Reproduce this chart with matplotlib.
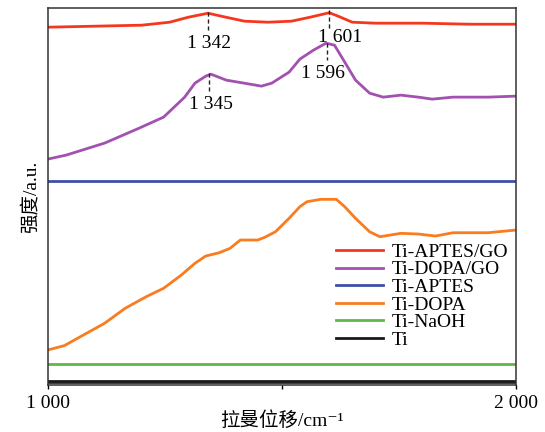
import numpy as np
import matplotlib.pyplot as plt

plt.rcParams['font.family'] = ['Liberation Serif', 'Noto Sans CJK SC', 'DejaVu Sans']

# Raman spectra (arbitrary intensity units, offset stacked)
red_x = [1000, 1100, 1200, 1260, 1300, 1342, 1380, 1420, 1470, 1520, 1560, 1601, 1620, 1650, 1700, 1800, 1900, 2000]
red_y = [373, 374, 375, 378, 383, 387, 383, 379, 378, 379, 383, 387.5, 384, 378, 377, 377, 376, 376]

purple_x = [1000, 1039, 1121, 1195, 1247, 1292, 1314, 1337, 1348, 1381, 1419, 1456, 1478, 1515, 1538,
            1567, 1594, 1612, 1634, 1657, 1687, 1716, 1754, 1791, 1821, 1865, 1940, 2000]
purple_y = [241, 245, 257, 272, 283, 303, 317, 324, 326, 320, 317, 314, 317, 328, 341,
            350, 357, 355, 338, 320, 307, 303, 305, 303, 301, 303, 303, 304]

blue_x = [1000, 2000]
blue_y = [219, 219]

orange_x = [1000, 1035, 1076, 1121, 1165, 1210, 1247, 1285, 1314, 1337, 1366, 1389, 1411, 1448, 1463,
            1486, 1515, 1538, 1553, 1582, 1616, 1634, 1657, 1687, 1709, 1754, 1791, 1828, 1865, 1940, 2000]
orange_y = [50, 54.3, 65, 76.7, 91.7, 103.3, 111.7, 125, 136.7, 144, 147.3, 151.7, 160, 160, 162.7,
            168.3, 181.7, 193.3, 198.3, 200.7, 200.7, 193.3, 181.7, 168.3, 163.3, 166.7, 166, 164, 167.3, 167.3, 170]

green_x = [1000, 2000]
green_y = [36, 36]

black_x = [1000, 2000]
black_y = [18.5, 18.5]

labels = ['Ti-APTES/GO', 'Ti-DOPA/GO', 'Ti-APTES', 'Ti-DOPA', 'Ti-NaOH', 'Ti']
colors = ['#f5371f', '#a251b0', '#3f4fa8', '#f97c1f', '#5cb946', '#1a1a1a']

# peak marks: (wavenumber, mark top, mark bottom, label x, label y, label)
peaks = [(1342, 388, 368, 1344, 357, '1 342'), (1601, 390, 370, 1624, 363, '1 601'),
         (1345, 327, 309, 1348, 296, '1 345'), (1596, 357, 340, 1588, 327, '1 596')]

fig = plt.figure(figsize=(5.45, 4.32), dpi=100)
ax = fig.add_axes([0.088, 0.109, 0.859, 0.872])

series = [(red_x, red_y), (purple_x, purple_y), (blue_x, blue_y),
          (orange_x, orange_y), (green_x, green_y), (black_x, black_y)]
for (xs, ys), lab, c in zip(series, labels, colors):
    ax.plot(xs, ys, color=c, lw=2, label=lab)
ax.plot(black_x, [17, 17], color='#1a1a1a', lw=1.2)

for wn, top, bot, tx, ty, txt in peaks:
    ax.plot([wn, wn], [top, bot], color='#222222', lw=1, ls=(0, (3, 2)))
    ax.text(tx, ty, txt, ha='center', va='center', fontsize=14)

ax.set_xlim(1000, 2000)
ax.set_ylim(15, 392)
ax.set_xticks([1000, 1500, 2000])
ax.set_xticklabels(['1 000', '', '2 000'], fontsize=14)
ax.set_yticks([])
ax.tick_params(axis='x', direction='out', length=3, width=1, pad=4)
for s in ax.spines.values():
    s.set_linewidth(1.1)
    s.set_color('#333333')

ax.set_xlabel('拉曼位移/cm⁻¹', fontsize=14, labelpad=0)
ax.set_ylabel('强度/a.u.', fontsize=14, labelpad=6)

leg = ax.legend(loc='lower right', bbox_to_anchor=(1.0, 0.075), frameon=False, fontsize=14,
                handlelength=2.4, handletextpad=0.45, labelspacing=0.0, borderaxespad=0)

fig.savefig('out.png', dpi=100)
